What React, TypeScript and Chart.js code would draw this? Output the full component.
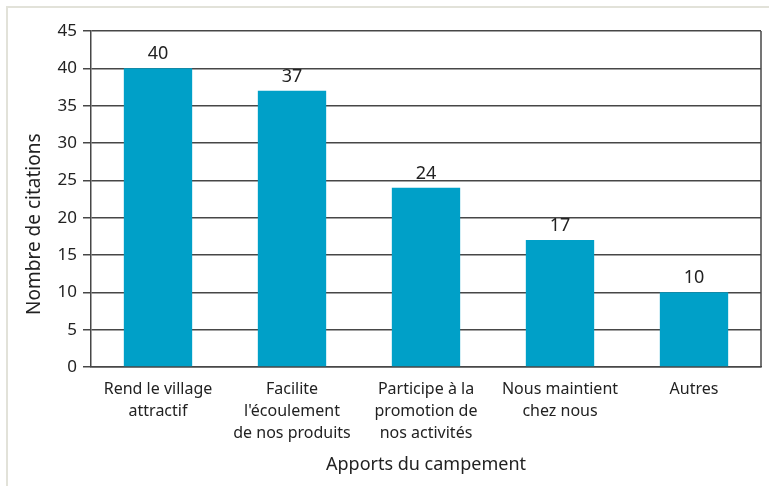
import React, { useEffect, useRef } from "react";
import { Chart, registerables } from "chart.js";
Chart.register(...registerables);

const categories: (string | string[])[] = [
  ["Rend le village", "attractif"],
  ["Facilite", "l'écoulement", "de nos produits"],
  ["Participe à la", "promotion de", "nos activités"],
  ["Nous maintient", "chez nous"],
  ["Autres"],
];
const values = [40, 37, 24, 17, 10];
const yTitle = "Nombre de citations";
const xTitle = "Apports du campement";

const FONT = "'Noto Sans', 'Open Sans', sans-serif";
const TEXT = "#222222";
const GRID = "#474747";

export default function App() {
  const ref = useRef<HTMLCanvasElement>(null);
  useEffect(() => {
    if (!ref.current) return;
    const framePlugin = {
      id: "frame",
      beforeDraw(chart: any) {
        const ctx = chart.ctx;
        ctx.save();
        ctx.fillStyle = "#ffffff";
        ctx.fillRect(0, 0, chart.width, chart.height);
        ctx.fillStyle = "#e2e2d9";
        ctx.fillRect(6, 6, chart.width - 6, 2);
        ctx.fillRect(6, 6, 2, chart.height - 6);
        ctx.restore();
      },
      afterDatasetsDraw(chart: any) {
        const ctx = chart.ctx;
        const a = chart.chartArea;
        ctx.save();
        ctx.strokeStyle = GRID;
        ctx.lineWidth = 1.5;
        ctx.beginPath();
        ctx.moveTo(a.right, a.top);
        ctx.lineTo(a.right, a.bottom);
        ctx.stroke();
        const meta = chart.getDatasetMeta(0);
        ctx.fillStyle = TEXT;
        ctx.font = `18px ${FONT}`;
        ctx.textAlign = "center";
        ctx.textBaseline = "bottom";
        meta.data.forEach((bar: any, i: number) => {
          ctx.fillText(String(values[i]), bar.x, bar.y - 5);
        });
        // y axis title, placed a bit below the plot's middle as in the reference
        ctx.translate(35, a.top + (a.bottom - a.top) * 0.575);
        ctx.rotate(-Math.PI / 2);
        ctx.font = `19px ${FONT}`;
        ctx.textBaseline = "middle";
        ctx.fillText(yTitle, 0, 0);
        ctx.restore();
      },
    };
    const chart = new Chart(ref.current, {
      type: "bar",
      data: {
        labels: categories,
        datasets: [
          {
            data: values,
            backgroundColor: "#00a0c8",
            borderWidth: 0,
            categoryPercentage: 1,
            barPercentage: 0.51,
          },
        ],
      },
      options: {
        animation: false,
        responsive: false,
        layout: { padding: { top: 31, right: 8, left: 0, bottom: 0 } },
        plugins: { legend: { display: false }, tooltip: { enabled: false } },
        scales: {
          x: {
            grid: { display: false },
            border: { color: GRID, width: 1.5 },
            ticks: {
              color: TEXT,
              font: { family: FONT, size: 16, lineHeight: 1.38 },
              maxRotation: 0,
              autoSkip: false,
              padding: 3,
            },
            title: {
              display: true,
              text: xTitle,
              color: TEXT,
              font: { family: FONT, size: 18 },
              padding: { top: 10, bottom: 10 },
            },
            afterFit(scale: any) {
              scale.height = 486 - 367;
            },
          },
          y: {
            min: 0,
            max: 45,
            ticks: {
              stepSize: 5,
              color: TEXT,
              font: { family: FONT, size: 17 },
              padding: 6,
            },
            grid: {
              color: GRID,
              lineWidth: 1.5,
              tickLength: 8,
              tickColor: GRID,
            },
            border: { color: GRID, width: 1.5 },
            title: { display: false },
            afterFit(scale: any) {
              scale.width = 91;
            },
          },
        },
      },
      plugins: [framePlugin],
    });
    return () => chart.destroy();
  }, []);
  return (
    <div style={{ position: "absolute", left: 0, top: 0, width: 769, height: 486 }}>
      <canvas ref={ref} width={769} height={486} />
    </div>
  );
}
